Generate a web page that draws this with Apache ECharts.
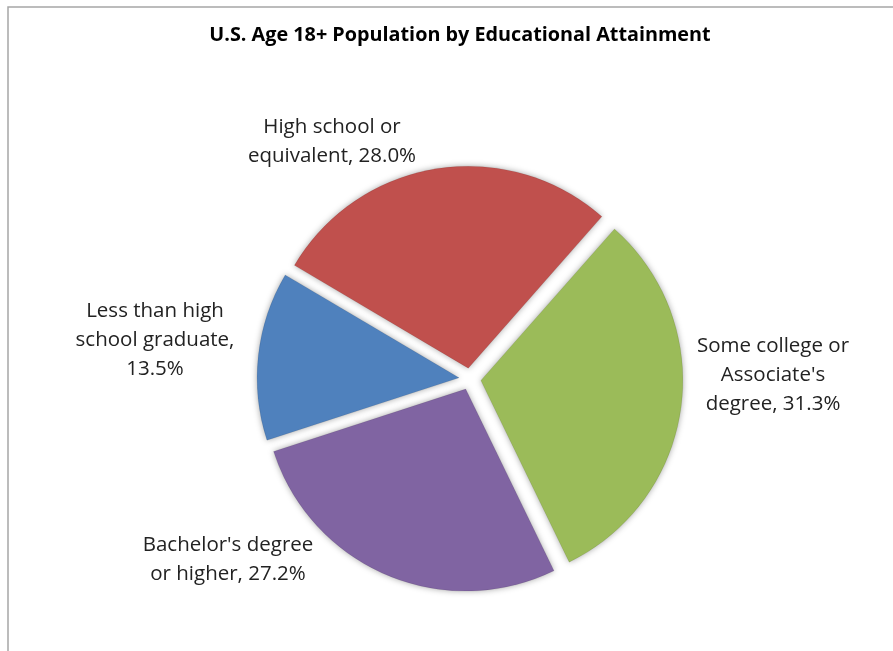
<!DOCTYPE html>
<html>
<head>
<meta charset="utf-8">
<script src="https://cdn.jsdelivr.net/npm/echarts@6/dist/echarts.min.js"></script>
<style>
html,body{margin:0;padding:0;background:#fff;}
#chart{width:893px;height:651px;}
</style>
</head>
<body>
<div id="chart"></div>
<script>
const titleText = 'U.S. Age 18+ Population by Educational Attainment';
const categories = ['Less than high\nschool graduate,', 'High school or\nequivalent,', "Some college or\nAssociate's\ndegree,", "Bachelor's degree\nor higher,"];
const values = [13.5, 28.0, 31.3, 27.2];
const valueBreak = ['\n', ' ', ' ', ' '];
const colors = ['#4f81bd', '#c0504d', '#9bbb59', '#8064a2'];

const labelPos = [[155, 340], [332, 142], [773, 375], [228, 560]];

const labelTexts = graphicLabels();
function graphicLabels() {
  return categories.map((c, i) => ({
    type: 'text',
    x: labelPos[i][0],
    y: labelPos[i][1],
    silent: true,
    style: {
      text: c + valueBreak[i] + values[i].toFixed(1) + '%',
      fontFamily: 'Open Sans',
      fontSize: 20.5,
      lineHeight: 29,
      fill: '#222',
      align: 'center',
      verticalAlign: 'middle'
    }
  }));
}

const chart = echarts.init(document.getElementById('chart'));
chart.setOption({
  animation: false,
  backgroundColor: '#ffffff',
  title: {
    text: titleText,
    left: 455,
    top: 20,
    textAlign: 'center',
    textStyle: {fontFamily: 'Open Sans', fontWeight: 'bold', fontSize: 19.8, color: '#000'}
  },
  graphic: [{
    type: 'rect',
    shape: {x: 8, y: 7, width: 900, height: 700},
    style: {fill: 'none', stroke: '#a6a6a6', lineWidth: 1.5},
    silent: true
  }].concat(labelTexts),
  series: [{
    type: 'pie',
    center: [470, 379],
    radius: [0, 202],
    startAngle: 198,
    clockwise: true,
    selectedMode: 'multiple',
    selectedOffset: 11,
    emphasis: {disabled: true},
    itemStyle: {
      shadowBlur: 6,
      shadowColor: 'rgba(0,0,0,0.35)',
      borderColor: 'rgba(0,0,0,0.08)',
      borderWidth: 1
    },
    label: {show: false},
    labelLine: {show: false},
    data: categories.map((c, i) => ({
      name: c.replace(/\n/g, ' ').replace(/,$/, ''),
      value: values[i],
      selected: true,
      itemStyle: {color: colors[i]}
    }))
  }]
});
</script>
</body>
</html>
